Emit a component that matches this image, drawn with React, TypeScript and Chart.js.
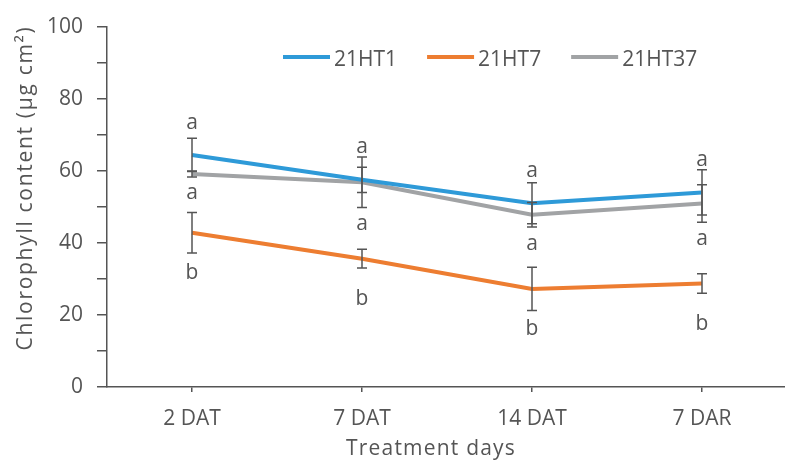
import React, { useEffect, useRef } from "react";
import { Chart, registerables } from "chart.js";

Chart.register(...registerables);

const categories = ["2 DAT", "7 DAT", "14 DAT", "7 DAR"];
const seriesNames = ["21HT1", "21HT7", "21HT37"];

const ht1Values = [64.4, 57.5, 51.0, 54.0];
const ht1Errors = [4.6, 3.5, 5.7, 6.3];
const ht1Letters = ["a", "a", "a", "a"];

const ht7Values = [42.8, 35.6, 27.2, 28.7];
const ht7Errors = [5.6, 2.6, 6.0, 2.7];
const ht7Letters = ["b", "b", "b", "b"];

const ht37Values = [59.1, 56.8, 47.8, 50.9];
const ht37Errors = [0.8, 7.0, 3.4, 5.2];
const ht37Letters = ["a", "a", "a", "a"];

const yTicksMin = 0;
const yTicksMax = 100;
const yTickStep = 10;
const yLabelStep = 20;

const xTitle = "Treatment days";
const yTitle = "Chlorophyll content (μg cm²)";

const TEXT = "#555555";
const FONT = '"Open Sans", sans-serif';
const FS = 21;
const COLORS = ["#2E9AD8", "#ED7D31", "#A1A3A5"];

const errorsBySeries = [ht1Errors, ht7Errors, ht37Errors];

const decorPlugin = {
  id: "decor",
  afterDatasetsDraw(chart: any) {
    const ctx = chart.ctx;
    const xs = chart.scales.x;
    const ys = chart.scales.y;
    ctx.save();
    ctx.strokeStyle = TEXT;
    ctx.lineWidth = 1.5;
    chart.data.datasets.forEach((ds: any, di: number) => {
      const errs = errorsBySeries[di];
      ds.data.forEach((v: number, i: number) => {
        const x = xs.getPixelForValue(i);
        const yt = ys.getPixelForValue(v + errs[i]);
        const yb = ys.getPixelForValue(v - errs[i]);
        ctx.beginPath();
        ctx.moveTo(x, yt);
        ctx.lineTo(x, yb);
        ctx.moveTo(x - 5, yt);
        ctx.lineTo(x + 5, yt);
        ctx.moveTo(x - 5, yb);
        ctx.lineTo(x + 5, yb);
        ctx.stroke();
      });
    });
    ctx.restore();
  },
  afterDraw(chart: any) {
    const ctx = chart.ctx;
    const xs = chart.scales.x;
    const ys = chart.scales.y;
    const area = chart.chartArea;
    ctx.save();
    ctx.fillStyle = TEXT;
    ctx.font = `${FS}px ${FONT}`;
    ctx.textAlign = "center";
    ctx.textBaseline = "alphabetic";
    const glyphOffset = (s: string) => (s === "a" ? 5.6 : 8);
    categories.forEach((_, i) => {
      const x = xs.getPixelForValue(i);
      const yBlue = ys.getPixelForValue(ht1Values[i]);
      const l1 = ht1Letters[i];
      ctx.fillText(l1, x, yBlue - 32 + glyphOffset(l1));
      const lowCap = Math.max(
        ys.getPixelForValue(ht1Values[i] - ht1Errors[i]),
        ys.getPixelForValue(ht37Values[i] - ht37Errors[i])
      );
      const l3 = ht37Letters[i];
      ctx.fillText(l3, x, lowCap + 17 + glyphOffset(l3));
      const yOr = ys.getPixelForValue(ht7Values[i]);
      const l7 = ht7Letters[i];
      ctx.fillText(l7, x, yOr + 38 + glyphOffset(l7));
    });

    // legend
    ctx.textAlign = "left";
    let lx = area.left + 176;
    const ly = 57;
    chart.data.datasets.forEach((ds: any) => {
      ctx.strokeStyle = ds.borderColor;
      ctx.lineWidth = 4;
      ctx.beginPath();
      ctx.moveTo(lx, ly);
      ctx.lineTo(lx + 47, ly);
      ctx.stroke();
      ctx.fillStyle = TEXT;
      ctx.fillText(ds.label, lx + 51, ly + 9);
      lx += 51 + ctx.measureText(ds.label).width + 30;
    });

    // axis titles
    ctx.fillStyle = TEXT;
    ctx.textAlign = "center";
    (ctx as any).letterSpacing = "1.2px";
    ctx.fillText(xTitle, 431, 455);
    (ctx as any).letterSpacing = "1.7px";
    ctx.translate(32, 188);
    ctx.rotate(-Math.PI / 2);
    ctx.fillText(yTitle, 0, 0);
    ctx.restore();
  },
};

export default function App() {
  const canvasRef = useRef<HTMLCanvasElement | null>(null);

  useEffect(() => {
    if (!canvasRef.current) return;
    const chart = new Chart(canvasRef.current, {
      type: "line",
      data: {
        labels: categories,
        datasets: [
          { label: seriesNames[0], data: ht1Values, borderColor: COLORS[0], backgroundColor: COLORS[0] },
          { label: seriesNames[1], data: ht7Values, borderColor: COLORS[1], backgroundColor: COLORS[1] },
          { label: seriesNames[2], data: ht37Values, borderColor: COLORS[2], backgroundColor: COLORS[2] },
        ].map((d) => ({ ...d, borderWidth: 4, pointRadius: 0, tension: 0, fill: false })),
      },
      options: {
        animation: false,
        responsive: true,
        maintainAspectRatio: false,
        layout: { padding: { top: 24, right: 3, left: 0, bottom: 0 } },
        plugins: {
          legend: { display: false },
          tooltip: { enabled: false },
          title: { display: false },
        },
        scales: {
          x: {
            offset: true,
            grid: {
              offset: false,
              drawOnChartArea: false,
              drawTicks: true,
              tickLength: 5,
              color: TEXT,
              lineWidth: 1.5,
            },
            border: { display: true, color: TEXT, width: 1.5 },
            ticks: { color: TEXT, font: { family: FONT, size: FS }, padding: 14, maxRotation: 0 },
            afterFit: (s: any) => {
              s.height = 74;
            },
          },
          y: {
            min: yTicksMin,
            max: yTicksMax,
            grid: {
              drawOnChartArea: false,
              drawTicks: true,
              tickLength: 10,
              color: TEXT,
              lineWidth: 1.5,
            },
            border: { display: true, color: TEXT, width: 1.5 },
            ticks: {
              stepSize: yTickStep,
              color: TEXT,
              font: { family: FONT, size: FS },
              padding: 14,
              callback: (v: any) => (Number(v) % yLabelStep === 0 ? String(v) : ""),
            },
            afterFit: (s: any) => {
              s.width = 107;
            },
          },
        },
      },
      plugins: [decorPlugin],
    });
    return () => chart.destroy();
  }, []);

  return (
    <div style={{ position: "fixed", left: 0, top: 0, width: 790, height: 461, background: "#fff" }}>
      <canvas ref={canvasRef} />
    </div>
  );
}
